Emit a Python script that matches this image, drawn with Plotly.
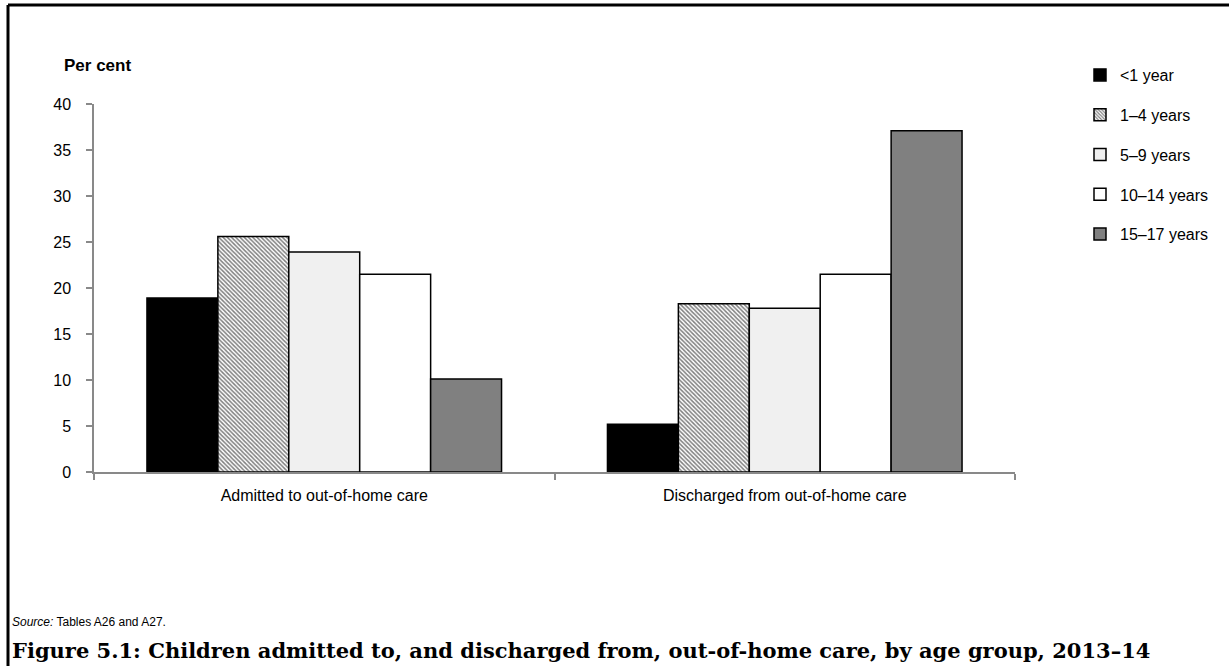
import plotly.graph_objects as go

categories = ["Admitted to out-of-home care", "Discharged from out-of-home care"]
age_groups = ["<1 year", "1–4 years", "5–9 years", "10–14 years", "15–17 years"]
values = {
    "<1 year": [18.9, 5.2],
    "1–4 years": [25.6, 18.3],
    "5–9 years": [23.9, 17.8],
    "10–14 years": [21.5, 21.5],
    "15–17 years": [10.1, 37.1],
}
y_ticks = [0, 5, 10, 15, 20, 25, 30, 35, 40]

fills = {
    "<1 year": dict(color="#000000"),
    "1–4 years": dict(color="#ffffff", pattern=dict(shape="\\", fgcolor="#000000", bgcolor="#ffffff", size=3, solidity=0.5)),
    "5–9 years": dict(color="#f0f0f0"),
    "10–14 years": dict(color="#ffffff"),
    "15–17 years": dict(color="#808080"),
}

fig = go.Figure()
for i, g in enumerate(age_groups):
    m = dict(fills[g])
    m["line"] = dict(color="#000000", width=1.5)
    fig.add_trace(go.Bar(x=categories, y=values[g], name=g, marker=m, legendgroup=str(i)))

W, H = 1229, 666
L, R, T, B = 94, 1015, 104, 472
fig.update_layout(
    width=W, height=H,
    margin=dict(l=L, r=W - R, t=T, b=H - B),
    paper_bgcolor="white", plot_bgcolor="white",
    barmode="group", bargap=0.23, bargroupgap=0,
    font=dict(family="Liberation Sans, Arial, sans-serif", size=16, color="#000"),
    showlegend=True,
    legend=dict(x=(1080 - L) / (R - L), y=(B - 58) / (B - T), xanchor="left", yanchor="top",
                font=dict(size=16), tracegroupgap=16, itemwidth=30,
                bgcolor="rgba(0,0,0,0)"),
    xaxis=dict(showline=True, linecolor="#898989", linewidth=1.5, ticks="outside",
               tickson="boundaries", ticklen=6, tickcolor="#898989", tickwidth=1.5,
               showgrid=False, tickfont=dict(size=16), ticklabelstandoff=8),
    yaxis=dict(range=[0, 40], tickvals=y_ticks, showline=True, linecolor="#898989", linewidth=1.5,
               ticks="outside", ticklen=6, tickcolor="#898989", tickwidth=1.5,
               showgrid=False, zeroline=False, tickfont=dict(size=16), ticklabelstandoff=12),
    shapes=[
        dict(type="line", xref="paper", yref="paper", x0=(8 - L) / (R - L), x1=(W - L) / (R - L),
             y0=(B - 5) / (B - T), y1=(B - 5) / (B - T), line=dict(color="#000", width=3)),
        dict(type="line", xref="paper", yref="paper", x0=(8 - L) / (R - L), x1=(8 - L) / (R - L),
             y0=(B - 5) / (B - T), y1=(B - H) / (B - T), line=dict(color="#000", width=3)),
    ],
    annotations=[
        dict(text="<b>Per cent</b>", xref="paper", yref="paper", x=(62 - L) / (R - L), y=(B - 65) / (B - T),
             xanchor="left", yanchor="middle", showarrow=False, font=dict(size=17)),
        dict(text="<i>Source:</i> Tables A26 and A27.", xref="paper", yref="paper",
             x=(10 - L) / (R - L), y=(B - 622) / (B - T), xanchor="left", yanchor="middle",
             showarrow=False, font=dict(size=12, family="Liberation Sans, Arial, sans-serif")),
        dict(text="<b>Figure 5.1: Children admitted to, and discharged from, out-of-home care, by age group, 2013–14</b>",
             xref="paper", yref="paper", x=(10 - L) / (R - L), y=(B - 650) / (B - T),
             xanchor="left", yanchor="middle", showarrow=False,
             font=dict(size=21, family="DejaVu Serif, serif")),
    ],
)

fig.write_html("out.html", config={"displayModeBar": False},
               post_script="document.body.style.margin='0';document.body.style.overflow='hidden';")
